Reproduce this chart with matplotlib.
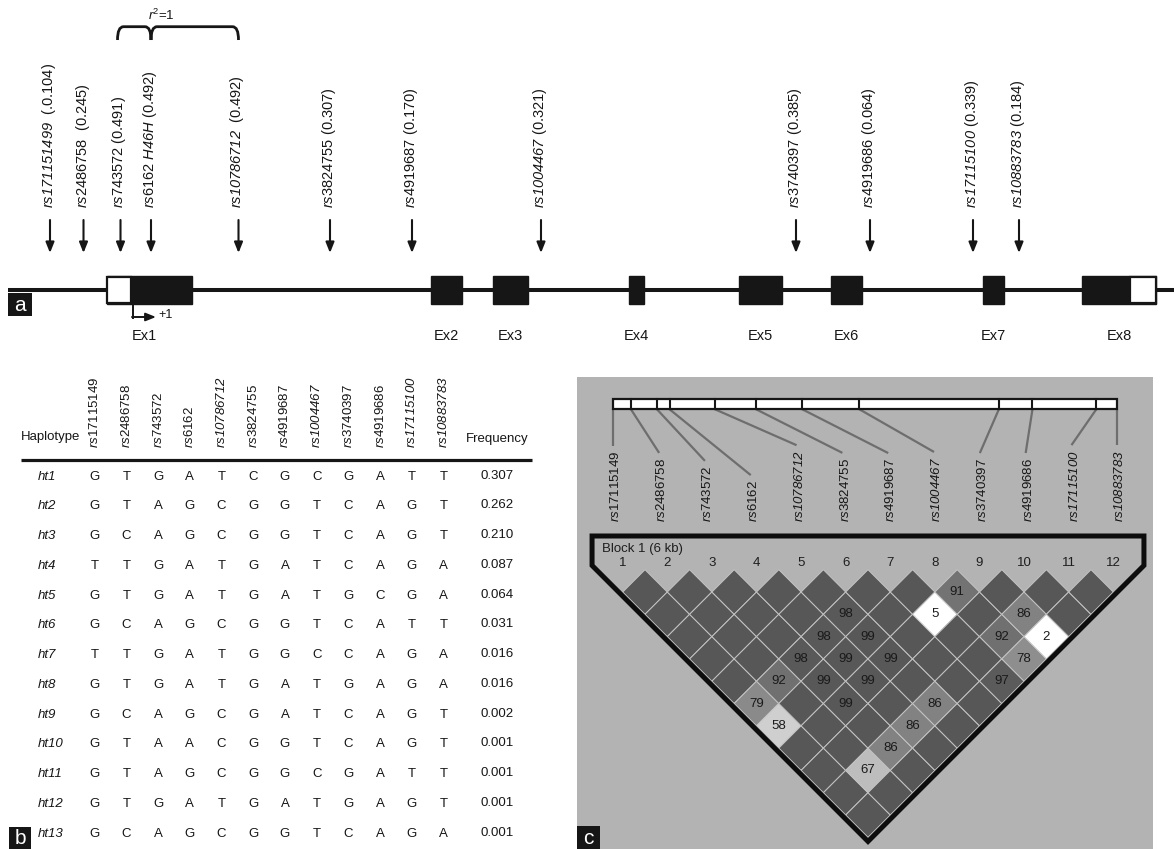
import numpy as np
import matplotlib
matplotlib.use("Agg")
import matplotlib.pyplot as plt
import matplotlib.transforms as mtransforms
from matplotlib.patches import Rectangle, Polygon, PathPatch
from matplotlib.path import Path

plt.rcParams['font.family'] = ['Liberation Sans', 'DejaVu Sans']
plt.rcParams['mathtext.fontset'] = 'custom'
plt.rcParams['mathtext.rm'] = 'Liberation Sans'
plt.rcParams['mathtext.it'] = 'Liberation Sans:italic'
plt.rcParams['mathtext.sf'] = 'Liberation Sans:italic'

W, H = 1174, 849
ink = '#161616'

# ---- panel a : gene map (schematic positions along the line)
snp_a = ['rs171151499', 'rs2486758', 'rs743572', 'rs6162', 'rs10786712', 'rs3824755',
         'rs4919687', 'rs1004467', 'rs3740397', 'rs4919686', 'rs17115100', 'rs10883783']
maf_a = ['.0.104', '0.245', '0.491', '0.492', '0.492', '0.307',
         '0.170', '0.321', '0.385', '0.064', '0.339', '0.184']
snp_pos = [50, 83.5, 120.5, 151, 238.5, 330, 412, 541, 796, 870, 973, 1019]
exon_names = ['Ex1', 'Ex2', 'Ex3', 'Ex4', 'Ex5', 'Ex6', 'Ex7', 'Ex8']
exon_start = [106.7, 431, 493, 628.5, 739, 831, 983, 1082]
exon_end = [192.3, 462, 528, 643.6, 782, 862, 1004, 1156]
utr_start = [106.7, 1130]
utr_end = [131, 1156]

# ---- panel b : haplotypes
snps = ['rs17115149', 'rs2486758', 'rs743572', 'rs6162', 'rs10786712', 'rs3824755',
        'rs4919687', 'rs1004467', 'rs3740397', 'rs4919686', 'rs17115100', 'rs10883783']
hap_names = ['ht%d' % i for i in range(1, 14)]
haplotypes = ['GTGATCGCGATT', 'GTAGCGGTCAGT', 'GCAGCGGTCAGT', 'TTGATGATCAGA',
              'GTGATGATGCGA', 'GCAGCGGTCATT', 'TTGATGGCCAGA', 'GTGATGATGAGA',
              'GCAGCGATCAGT', 'GTAACGGTCAGT', 'GTAGCGGCGATT', 'GTGATGATGAGT',
              'GCAGCGGTCAGA']
hap_freq = ['0.307', '0.262', '0.210', '0.087', '0.064', '0.031', '0.016',
            '0.016', '0.002', '0.001', '0.001', '0.001', '0.001']

# ---- panel c : LD (D' x100), pairs not listed are 100 (no number shown)
marker_kb = [0, 0.21, 0.52, 0.67, 1.21, 1.70, 2.25, 2.93, 4.59, 4.99, 5.75, 6.0]
dprime = {(5, 7): 98, (4, 7): 98, (5, 8): 99, (3, 7): 98, (4, 8): 99, (5, 9): 99,
          (2, 7): 92, (3, 8): 99, (4, 9): 99, (1, 7): 79, (3, 9): 99, (1, 8): 58,
          (8, 9): 91, (7, 9): 5, (9, 11): 86, (9, 12): 2, (8, 11): 92, (8, 12): 78,
          (7, 12): 97, (5, 11): 86, (4, 11): 86, (3, 11): 86, (2, 11): 67}

full_italic = {'rs171151499', 'rs10786712', 'rs1004467', 'rs17115100', 'rs10883783'}


def rs_text(name):
    if name in full_italic:
        return r'$\mathsf{%s}$' % name
    return r'$\mathsf{rs}$' + name[2:]


def shade(v):
    return str(np.interp(v, [0, 10, 58, 67, 79, 86, 92, 97, 100],
                         [1.0, 1.0, 0.81, 0.74, 0.54, 0.51, 0.44, 0.355, 0.34]))


fig = plt.figure(figsize=(W / 100, H / 100), dpi=100)
px = mtransforms.Affine2D().scale(1 / W, -1 / H).translate(0, 1) + fig.transFigure


def panel_letter(letter, x0, y0, x1, y1):
    fig.patches.append(Rectangle((x0, y0), x1 - x0, y1 - y0, transform=px,
                                 fc=ink, ec='none', zorder=10))
    fig.text((x0 + x1) / 2, (y0 + y1) / 2 + 1, letter, transform=px, color='white',
             fontsize=15, ha='center', va='center', zorder=11)


# ================= panel a
ax = fig.add_axes([0, 1 - 350 / H, 1, 350 / H])
ax.set_xlim(0, W)
ax.set_ylim(350, 0)
ax.axis('off')

ax.plot([8, W], [290, 290], color=ink, lw=2.9, solid_capstyle='butt', zorder=1)
for s, e in zip(exon_start, exon_end):
    ax.add_patch(Rectangle((s, 276), e - s, 28, fc=ink, ec=ink, lw=1, zorder=2))
for s, e in zip(utr_start, utr_end):
    ax.add_patch(Rectangle((s, 277), e - s, 26, fc='white', ec=ink, lw=1.6, zorder=3))
for nm, s, e in zip(exon_names, exon_start, exon_end):
    xc = (s + e) / 2 if nm != 'Ex1' else 144
    ax.text(xc, 336, nm, ha='center', va='center', fontsize=10.5, color=ink)

for nm, f, x in zip(snp_a, maf_a, snp_pos):
    ax.annotate('', xy=(x, 253), xytext=(x, 220),
                arrowprops=dict(arrowstyle='-|>,head_length=0.45,head_width=0.18',
                                lw=1.5, color=ink, mutation_scale=14,
                                shrinkA=0, shrinkB=0))
    gap = '  ' if nm in ('rs171151499', 'rs2486758', 'rs10786712') else ' '
    if nm == 'rs6162':
        lab = rs_text(nm) + r' $\mathsf{H46H}$ (' + f + ')'
    else:
        lab = rs_text(nm) + gap + '(' + f + ')'
    ax.text(x - 1, 208, lab, rotation=90, ha='center', va='bottom',
            fontsize=10.5, color=ink)

# r2 = 1 brace over rs743572 .. rs10786712
bl, bm, br = snp_pos[2] - 3, snp_pos[3], snp_pos[4]
yt, yb = 26.7, 40
verts = [(bl, yb), (bl, yt), (bl + 6, yt), (bm - 6, yt), (bm, yt), (bm, yb),
         (bm, yb), (bm, yt), (bm + 6, yt), (br - 6, yt), (br, yt), (br, yb)]
codes = [Path.MOVETO, Path.CURVE3, Path.CURVE3, Path.LINETO, Path.CURVE3, Path.CURVE3,
         Path.MOVETO, Path.CURVE3, Path.CURVE3, Path.LINETO, Path.CURVE3, Path.CURVE3]
ax.add_patch(PathPatch(Path(verts, codes), fc='none', ec=ink, lw=2))
ax.text(bm + 10, 15, r'$\mathsf{r}^{2}$=1', ha='center', va='center', fontsize=9.5, color=ink)

# transcription start
ax.plot([132.7, 132.7], [304, 317.5], color=ink, lw=1.4)
ax.annotate('', xy=(156, 317), xytext=(132, 317),
            arrowprops=dict(arrowstyle='-|>,head_length=0.5,head_width=0.2',
                            lw=1.4, color=ink, mutation_scale=12, shrinkA=0, shrinkB=0))
ax.text(158, 315, '+1', ha='left', va='center', fontsize=9, color=ink)

panel_letter('a', 8, 293, 32, 316)

# ================= panel b
axb = fig.add_axes([0, 0, 560 / W, 499 / H])
axb.set_xlim(0, 560)
axb.set_ylim(849, 350)
axb.axis('off')

col_x = 94.6 + 31.73 * np.arange(len(snps))
row_y = 476.7 + 29.75 * np.arange(len(hap_names))
freq_x = 497

axb.text(51, 437, 'Haplotype', ha='center', va='center', fontsize=9.5, color=ink)
axb.text(freq_x, 439, 'Frequency', ha='center', va='center', fontsize=9.5, color=ink)
for x, nm in zip(col_x, snps):
    axb.text(x, 448, rs_text(nm), rotation=90, ha='center', va='bottom',
             fontsize=9.5, color=ink)
axb.plot([21, 532], [460, 460], color=ink, lw=2.3, solid_capstyle='butt')
for y, nm, hap, fq in zip(row_y, hap_names, haplotypes, hap_freq):
    axb.text(38, y, nm, ha='left', va='center', fontsize=9.5, style='italic', color=ink)
    for x, a in zip(col_x, hap):
        axb.text(x, y, a, ha='center', va='center', fontsize=9.5, color=ink)
    axb.text(freq_x, y - 1, fq, ha='center', va='center', fontsize=9.5, color=ink)

panel_letter('b', 9, 827, 31, 849)

# ================= panel c
u = 44.6                      # pixels per marker step
x0_px, y0_px = 622.7, 569.7   # marker 1 / top of the first row of diamonds
left, top, right, bottom = 577, 377, 1153, 849
axc = fig.add_axes([left / W, 1 - bottom / H, (right - left) / W, (bottom - top) / H])
axc.set_facecolor('#b3b3b3')
axc.set_xlim(1 + (left - x0_px) / u, 1 + (right - x0_px) / u)
axc.set_ylim((bottom - y0_px) / u, (top - y0_px) / u)
axc.set_xticks([])
axc.set_yticks([])
for sp in axc.spines.values():
    sp.set_visible(False)

n = len(snps)
# physical bar
bar_l, bar_r = 1 + (613.3 - x0_px) / u, 1 + (1117.3 - x0_px) / u
bar_t, bar_b = (399.3 - y0_px) / u, (409.3 - y0_px) / u
kb = np.array(marker_kb)
bar_x = bar_l + kb / kb[-1] * (bar_r - bar_l)
axc.add_patch(Rectangle((bar_l, bar_t), bar_r - bar_l, bar_b - bar_t,
                        fc='white', ec=ink, lw=1.6, zorder=3))
for bx in bar_x[1:-1]:
    axc.plot([bx, bx], [bar_t, bar_b], color=ink, lw=1.5, zorder=4)

lab_x = np.linspace(bar_l, bar_r, n)
lab_bot = (522 - y0_px) / u
labels_c = []
for x, nm in zip(lab_x, snps):
    t = axc.text(x + 0.06, lab_bot, rs_text(nm), rotation=90, ha='center', va='bottom',
                 fontsize=9.5, color=ink)
    labels_c.append(t)

fig.canvas.draw()
rend = fig.canvas.get_renderer()
inv = axc.transData.inverted()
for t, bx, lx in zip(labels_c, bar_x, lab_x):
    bb = t.get_window_extent(rend)
    _, yend = inv.transform((0, bb.y1 + 5))
    axc.plot([bx, lx], [bar_b, yend], color='#6e6e6e', lw=1.6, zorder=2,
             solid_capstyle='butt')

# block outline
off = 0.092
xl = 0.313
xr = n + 1 - xl
ytop = (536 - y0_px) / u
ydiag = xl - (0.5 - off)
apex = ((n + 1) / 2, (n + 1) / 2 - (0.5 - off))
axc.add_patch(Polygon([(xl, ytop), (xl, ydiag), apex, (xr, ydiag), (xr, ytop)],
                      closed=True, fc='none', ec='#0d0d0d', lw=3.6,
                      joinstyle='miter', zorder=6))
axc.text(0.527, (549 - y0_px) / u, 'Block 1 (6 kb)', ha='left', va='center',
         fontsize=9.5, color='#1e1e1e')
for k in range(1, n + 1):
    axc.text(k, -0.15, str(k), ha='center', va='center', fontsize=9.5, color='#1e1e1e')

for i in range(1, n + 1):
    for j in range(i + 1, n + 1):
        cx, cy = (i + j) / 2, (j - i) / 2
        v = dprime.get((i, j), 100)
        axc.add_patch(Polygon([(cx - 0.5, cy), (cx, cy - 0.5), (cx + 0.5, cy), (cx, cy + 0.5)],
                              closed=True, fc=shade(v), ec='#c4c4c4', lw=0.7, zorder=4))
        if (i, j) in dprime:
            axc.text(cx, cy, str(v), ha='center', va='center', fontsize=9.5,
                     color='#1a1a1a', zorder=5)

panel_letter('c', 577, 826, 600, 849)

fig.savefig('out.png', dpi=100)
